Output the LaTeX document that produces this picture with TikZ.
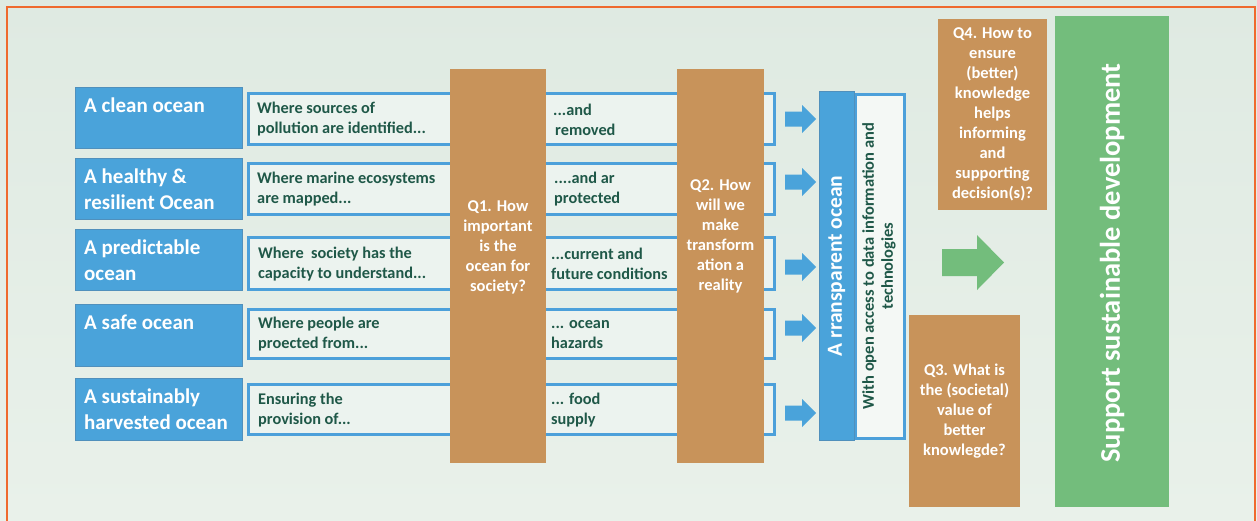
\documentclass[tikz,border=0pt]{standalone}
\usepackage{fontspec}
\setmainfont{Carlito}
\definecolor{oblue}{HTML}{4AA3DA}
\definecolor{oblueb}{HTML}{5090BC}
\definecolor{rowline}{HTML}{4CA0DA}
\definecolor{rowfill}{HTML}{ECF3EF}
\definecolor{tealtxt}{HTML}{1F5848}
\definecolor{tanq}{HTML}{C8935A}
\definecolor{ogreen}{HTML}{73BD7C}
\definecolor{bgtop}{HTML}{DFEAE2}
\definecolor{bgbot}{HTML}{E9F1EA}
\definecolor{frame}{HTML}{EF6A2E}
\definecolor{sidefill}{HTML}{F4F8F5}
\begin{document}
\begin{tikzpicture}[x=1pt,y=-1pt,
  bluebox/.style={fill=oblue, draw=oblueb, line width=0.8pt, inner sep=0pt, anchor=north west},
  bluetxt/.style={text=white, font=\bfseries\fontsize{21}{26}\selectfont, align=left, inner sep=0pt, anchor=north west},
  rowbox/.style={fill=rowfill, draw=rowline, line width=2.6pt, inner sep=0pt, anchor=north west},
  rowtxt/.style={text=tealtxt, font=\bfseries\fontsize{16.3}{20}\selectfont, align=left, inner sep=0pt, anchor=west},
  qbox/.style={fill=tanq, inner sep=0pt, anchor=north west},
  qtxt/.style={text=white, font=\bfseries\fontsize{16.5}{20}\selectfont, align=center, inner sep=0pt},
  blockarrow/.style={fill=oblue},
]
\useasboundingbox (0,0) rectangle (1257,520);
\shade[top color=bgtop, bottom color=bgbot] (0,0) rectangle (1257,520);

% rows: white boxes
\node[rowbox, minimum width=526pt, minimum height=51pt] (r1) at (247,92) {};
\node[rowbox, minimum width=526pt, minimum height=51pt] (r2) at (247,162) {};
\node[rowbox, minimum width=526pt, minimum height=52pt] (r3) at (247,236) {};
\node[rowbox, minimum width=526pt, minimum height=49pt] (r4) at (247,308) {};
\node[rowbox, minimum width=526pt, minimum height=50pt] (r5) at (247,383) {};

% left blue boxes
\node[bluebox, minimum width=167pt, minimum height=61pt] (g1) at (75,87) {};
\node[bluebox, minimum width=167pt, minimum height=61pt] (g2) at (75,158) {};
\node[bluebox, minimum width=167pt, minimum height=61pt] (g3) at (75,229) {};
\node[bluebox, minimum width=167pt, minimum height=62pt] (g4) at (75,304) {};
\node[bluebox, minimum width=167pt, minimum height=62pt] (g5) at (75,378) {};
\node[bluetxt] (g1t) at (84,97.5) {A clean ocean};
\node[bluetxt] (g2t) at (84,168.5) {A healthy \&\\resilient Ocean};
\node[bluetxt] (g3t) at (84,239.5) {A predictable\\ocean};
\node[bluetxt] (g4t) at (84,314.5) {A safe ocean};
\node[bluetxt] (g5t) at (84,388.5) {A sustainably\\harvested ocean};

% row texts
\node[rowtxt] (r1a) at (257,119.5) {Where sources of\\pollution are identified...};
\node[rowtxt] (r2a) at (257,189.5) {Where marine ecosystems\\are mapped...};
\node[rowtxt] (r3a) at (258,264) {Where\ \ society has the\\capacity to understand...};
\node[rowtxt] (r4a) at (258,334.5) {Where people are\\proected from...};
\node[rowtxt] (r5a) at (258,410) {Ensuring the\\provision of...};
\node[rowtxt] (r1b) at (553,119.5) {...and\\\hspace{2pt}removed};
\node[rowtxt] (r2b) at (554,189.5) {....and ar\\protected};
\node[rowtxt] (r3b) at (551,264) {...current and\\future conditions};
\node[rowtxt] (r4b) at (551,334.5) {... ocean\\hazards};
\node[rowtxt] (r5b) at (551,410) {... food\\supply};

% question columns
\node[qbox, minimum width=96pt, minimum height=394pt] (q1) at (450,69) {};
\node[qtxt] (q1t) at (498,247) {Q1. How\\important\\is the\\ocean for\\society?};
\node[qbox, minimum width=87pt, minimum height=394pt] (q2) at (677,69) {};
\node[qtxt] (q2t) at (720.5,236) {Q2. How\\will we\\make\\transform\\ation a\\reality};

% blue block arrows
\foreach \c/\n in {119/1,182/2,267/3,328/4,413/5}{
  \fill[blockarrow] (785,\c-7.5) -- (802,\c-7.5) -- (802,\c-14) -- (816,\c)
     -- (802,\c+14) -- (802,\c+7.5) -- (785,\c+7.5) -- cycle;
}

% transparent ocean
\node[anchor=north west, fill=sidefill, draw=rowline, line width=2.6pt, inner sep=0pt,
      minimum width=49pt, minimum height=344pt] (tw) at (854,93) {};
\node[anchor=north west, fill=oblue, draw=oblueb, line width=0.8pt, inner sep=0pt,
      minimum width=35pt, minimum height=349pt] (tb) at (819,91) {};
\node[rotate=90, text=white, font=\bfseries\fontsize{21.5}{24}\selectfont, inner sep=0pt] (tbt) at (836.5,266) {A rransparent ocean};
\node[rotate=90, text=tealtxt, align=center, font=\bfseries\fontsize{16.5}{19}\selectfont, inner sep=0pt] (twt) at (879,266) {With open access to data information and\\technologies};

% Q3 and Q4
\node[qbox, minimum width=109pt, minimum height=191pt] (q4) at (938,19) {};
\node[qtxt] (q4t) at (992.5,114.5) {Q4. How to\\ensure\\(better)\\knowledge\\helps\\informing\\and\\supporting\\decision(s)?};
\node[qbox, minimum width=111pt, minimum height=192pt] (q3) at (909,315) {};
\node[qtxt] (q3t) at (964.5,411.5) {Q3. What is\\the (societal)\\value of\\better\\knowlegde?};

% green arrow
\fill[ogreen] (942,249) -- (977,249) -- (977,235) -- (1004,262.5) -- (977,290) -- (977,276) -- (942,276) -- cycle;

% support box
\node[anchor=north west, fill=ogreen, inner sep=0pt, minimum width=114pt, minimum height=491pt] (sd) at (1055,16) {};
\node[rotate=90, text=white, font=\bfseries\fontsize{28.5}{32}\selectfont, inner sep=0pt] (sdt) at (1112,263) {Support sustainable development};

% frame
\draw[frame, line width=2pt] (7,522) -- (7,7) -- (1255,7) -- (1255,522);
\end{tikzpicture}
\end{document}
